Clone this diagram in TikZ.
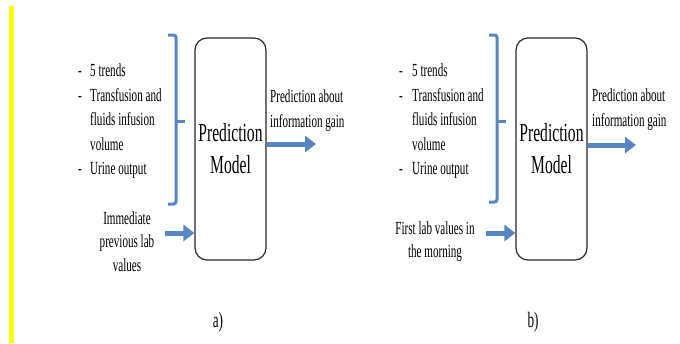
\documentclass[tikz,border=0pt]{standalone}
\usepackage{fontspec}
\usepackage{graphicx}
\setmainfont{Liberation Serif}
\usetikzlibrary{arrows.meta}
\definecolor{arrowblue}{RGB}{88,134,196}
\definecolor{markyellow}{RGB}{255,255,0}
\newcommand\sqz[1]{\scalebox{0.6}[1]{#1}}
\tikzset{
  smalltxt/.style={font=\fontsize{18.5}{24.5}\selectfont, inner sep=0pt},
  bigtxt/.style={font=\fontsize{26}{32}\selectfont, inner sep=0pt, align=center},
  captxt/.style={font=\fontsize{22}{26}\selectfont, inner sep=0pt},
  modelbox/.style={draw=black!85, line width=1.2pt, rounded corners=12pt},
  bluearrow/.style={draw=arrowblue, line width=5pt, -{Triangle[length=11pt,width=16pt]}},
  bracketline/.style={draw=arrowblue, line width=3pt, rounded corners=2.5pt}
}
\begin{document}
\begin{tikzpicture}[x=1pt,y=-1pt]
\useasboundingbox (0,0) rectangle (680,343);
\fill[markyellow] (9,6) rectangle (13.5,343);

% ---------- panel a ----------
\node[modelbox, minimum width=71pt, minimum height=222pt] (boxA) at (230.5,149) {};
\node[bigtxt] (mA) at (230.5,149) {\sqz{Prediction}\\\sqz{Model}};
\draw[bracketline] (168,35) -- (176,35) -- (176,204) -- (168,204);
\draw[bracketline, rounded corners=0pt] (176,121) -- (185,121);
\node[smalltxt, anchor=base west] (dA1) at (78,76) {\sqz{-}};
\node[smalltxt, anchor=base west] (tA1) at (90,76) {\sqz{5 trends}};
\node[smalltxt, anchor=base west] (dA2) at (78,101) {\sqz{-}};
\node[smalltxt, anchor=base west] (tA2) at (90,101) {\sqz{Transfusion and}};
\node[smalltxt, anchor=base west] (tA3) at (90,125.5) {\sqz{fluids infusion}};
\node[smalltxt, anchor=base west] (tA4) at (90,150) {\sqz{volume}};
\node[smalltxt, anchor=base west] (dA5) at (78,174.5) {\sqz{-}};
\node[smalltxt, anchor=base west] (tA5) at (90,174.5) {\sqz{Urine output}};
\node[smalltxt, anchor=base] (iA1) at (127,224) {\sqz{Immediate}};
\node[smalltxt, anchor=base] (iA2) at (127,247.5) {\sqz{previous lab}};
\node[smalltxt, anchor=base] (iA3) at (127,271) {\sqz{values}};
\coordinate (inA) at (165,233);
\draw[bluearrow] (inA) -- (boxA.west |- inA);
\node[smalltxt, anchor=base west] (oA1) at (270,102) {\sqz{Prediction about}};
\node[smalltxt, anchor=base west] (oA2) at (270,127) {\sqz{information gain}};
\coordinate (outA) at (316,144);
\draw[bluearrow] (boxA.east |- outA) -- (outA);
\node[captxt] (capA) at (218,322) {\sqz{a)}};

% ---------- panel b ----------
\node[modelbox, minimum width=71pt, minimum height=222pt] (boxB) at (551.5,149) {};
\node[bigtxt] (mB) at (551.5,149) {\sqz{Prediction}\\\sqz{Model}};
\draw[bracketline] (489,35) -- (497,35) -- (497,202) -- (489,202);
\draw[bracketline, rounded corners=0pt] (497,121) -- (506,121);
\node[smalltxt, anchor=base west] (dB1) at (399,76) {\sqz{-}};
\node[smalltxt, anchor=base west] (tB1) at (412,76) {\sqz{5 trends}};
\node[smalltxt, anchor=base west] (dB2) at (399,101) {\sqz{-}};
\node[smalltxt, anchor=base west] (tB2) at (412,101) {\sqz{Transfusion and}};
\node[smalltxt, anchor=base west] (tB3) at (412,125.5) {\sqz{fluids infusion}};
\node[smalltxt, anchor=base west] (tB4) at (412,150) {\sqz{volume}};
\node[smalltxt, anchor=base west] (dB5) at (399,174.5) {\sqz{-}};
\node[smalltxt, anchor=base west] (tB5) at (412,174.5) {\sqz{Urine output}};
\node[smalltxt, anchor=base] (iB1) at (435,234) {\sqz{First lab values in}};
\node[smalltxt, anchor=base] (iB2) at (435,257) {\sqz{the morning}};
\coordinate (inB) at (486,233);
\draw[bluearrow] (inB) -- (boxB.west |- inB);
\node[smalltxt, anchor=base west] (oB1) at (592,101) {\sqz{Prediction about}};
\node[smalltxt, anchor=base west] (oB2) at (592,126) {\sqz{information gain}};
\coordinate (outB) at (636,145);
\draw[bluearrow] (boxB.east |- outB) -- (outB);
\node[captxt] (capB) at (533,322) {\sqz{b)}};
\end{tikzpicture}
\end{document}
